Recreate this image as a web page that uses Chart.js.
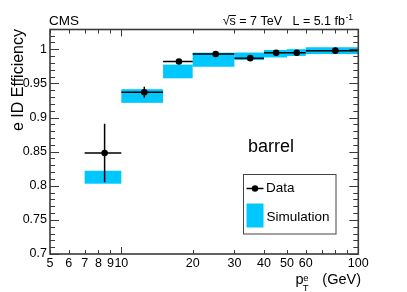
<!DOCTYPE html>
<html>
<head>
<meta charset="utf-8">
<script src="https://cdn.jsdelivr.net/npm/chart.js@4.4.0/dist/chart.umd.min.js"></script>
<style>
  body { margin: 0; background: #fff; }
  canvas { display: block; }
</style>
</head>
<body>
<canvas id="effChart" width="407" height="292"></canvas>
<script>
// bins in pT (GeV)
const binLo = [7, 10, 15, 20, 30, 40, 50, 60];
const binHi = [10, 15, 20, 30, 40, 50, 60, 100];
// data points
const dataX = [8.5, 12.5, 17.5, 25, 35, 45, 55, 80];
const dataY = [0.848, 0.937, 0.982, 0.993, 0.987, 0.995, 0.995, 0.998];
const dataErr = [0.043, 0.008, 0.003, 0.002, 0.002, 0.002, 0.002, 0.002];
// simulation band (centre +- half height)
const simY = [0.8125, 0.9315, 0.9675, 0.9847, 0.9897, 0.9935, 0.9952, 0.998];
const simErr = [0.0095, 0.010, 0.010, 0.0103, 0.0055, 0.0055, 0.005, 0.005];
// axes
const xTicks = [5, 6, 7, 8, 9, 10, 20, 30, 40, 50, 60, 70, 80, 90, 100];
const xTickLabels = [5, 6, 7, 8, 9, 10, 20, 30, 40, 50, 60, 100];
const yTicks = [0.7, 0.75, 0.8, 0.85, 0.9, 0.95, 1];
const yTickLabels = ['0.7', '0.75', '0.8', '0.85', '0.9', '0.95', '1'];

const FONT = "'Liberation Sans', Arial, Helvetica, sans-serif";
const SIM_COLOR = '#00c8ff';
const FRAME_COLOR = '#3a3a3a';

// boxes, error bars, frame, ticks and labels drawn ROOT style
const cmsPlugin = {
  id: 'cmsPlot',
  beforeDatasetsDraw(chart) {
    const { ctx, scales: { x, y } } = chart;
    ctx.save();
    ctx.fillStyle = SIM_COLOR;
    simY.forEach((v, i) => {
      const x0 = x.getPixelForValue(binLo[i]);
      const x1 = x.getPixelForValue(binHi[i]);
      const y0 = y.getPixelForValue(v + simErr[i]);
      const y1 = y.getPixelForValue(v - simErr[i]);
      ctx.fillRect(x0, y0, x1 - x0, y1 - y0);
    });

    ctx.strokeStyle = '#000';
    ctx.lineWidth = 1.5;
    dataY.forEach((v, i) => {
      const px = x.getPixelForValue(dataX[i]);
      const py = y.getPixelForValue(v);
      ctx.beginPath();
      ctx.moveTo(x.getPixelForValue(binLo[i]), py);
      ctx.lineTo(x.getPixelForValue(binHi[i]), py);
      ctx.moveTo(px, y.getPixelForValue(v + dataErr[i]));
      ctx.lineTo(px, y.getPixelForValue(v - dataErr[i]));
      ctx.stroke();
    });
    ctx.restore();
  },
  afterDraw(chart) {
    const { ctx, chartArea: a, scales: { x, y } } = chart;
    ctx.save();

    // ticks on all four sides, pointing inwards
    ctx.strokeStyle = FRAME_COLOR;
    ctx.lineWidth = 1;
    ctx.beginPath();
    for (let i = 70; i <= 102; i++) {
      const py = Math.round(y.getPixelForValue(i / 100)) + 0.5;
      const len = i % 5 === 0 ? 9 : 5;
      ctx.moveTo(a.left, py); ctx.lineTo(a.left + len, py);
      ctx.moveTo(a.right, py); ctx.lineTo(a.right - len, py);
    }
    xTicks.forEach(v => {
      const px = Math.round(x.getPixelForValue(v)) + 0.5;
      const len = (v === 10 || v === 100) ? 7 : 4;
      ctx.moveTo(px, a.bottom); ctx.lineTo(px, a.bottom - len);
      ctx.moveTo(px, a.top); ctx.lineTo(px, a.top + len);
    });
    ctx.stroke();

    // frame
    ctx.lineWidth = 1.6;
    ctx.strokeRect(a.left, a.top, a.right - a.left, a.bottom - a.top);

    // legend
    ctx.fillStyle = '#fff';
    ctx.fillRect(243.5, 174.5, 92.5, 59.5);
    ctx.strokeStyle = '#444';
    ctx.lineWidth = 1;
    ctx.strokeRect(243.5, 174.5, 92.5, 59.5);
    ctx.strokeStyle = '#000';
    ctx.lineWidth = 1.5;
    ctx.beginPath();
    ctx.moveTo(246.5, 188.5); ctx.lineTo(263.5, 188.5);
    ctx.stroke();
    ctx.fillStyle = '#000';
    ctx.beginPath();
    ctx.arc(255, 188.5, 3.2, 0, Math.PI * 2);
    ctx.fill();
    ctx.fillStyle = SIM_COLOR;
    ctx.fillRect(246.5, 203.5, 17, 24);

    ctx.fillStyle = '#000';
    ctx.textBaseline = 'middle';
    ctx.textAlign = 'left';
    ctx.font = '13.5px ' + FONT;
    ctx.fillText('Data', 266, 188.5);
    ctx.fillText('Simulation', 266.5, 217);

    // label inside the plot
    ctx.textBaseline = 'alphabetic';
    ctx.font = '18px ' + FONT;
    ctx.fillText('barrel', 248, 152);

    // header
    ctx.font = '13.5px ' + FONT;
    ctx.fillText('CMS', 49, 25);

    let xr = 353;
    ctx.font = '8.5px ' + FONT;
    const supW = ctx.measureText('-1').width;
    ctx.fillText('-1', xr - supW, 19.5);
    xr -= supW + 0.5;
    ctx.font = '12.5px ' + FONT;
    const main = ' = 7 TeV   L = 5.1 fb';
    const mainW = ctx.measureText(main).width;
    ctx.fillText(main, xr - mainW, 25);
    xr -= mainW;
    const sW = ctx.measureText('s').width;
    ctx.fillText('s', xr - sW, 25);
    ctx.strokeStyle = '#000';
    ctx.lineWidth = 1;
    ctx.beginPath();
    ctx.moveTo(xr - sW - 0.5, 15.5); ctx.lineTo(xr, 15.5);
    ctx.stroke();
    xr -= sW;
    const rW = ctx.measureText('\u221A').width;
    ctx.fillText('\u221A', xr - rW, 25);

    // y axis title
    ctx.save();
    ctx.translate(23, 29);
    ctx.rotate(-Math.PI / 2);
    ctx.textAlign = 'right';
    ctx.font = '16px ' + FONT;
    ctx.fillText('e ID Efficiency', 0, 0);
    ctx.restore();

    // x axis title  p_T^e (GeV)
    ctx.font = '14.5px ' + FONT;
    const gev = '(GeV)';
    const gevW = ctx.measureText(gev).width;
    ctx.fillText(gev, 361 - gevW, 283.5);
    ctx.fillText('p', 295.5, 283.5);
    ctx.font = '9.5px ' + FONT;
    ctx.fillText('e', 303.3, 281);
    ctx.fillText('T', 302.7, 290.5);

    ctx.restore();
  }
};

const ctx = document.getElementById('effChart').getContext('2d');
new Chart(ctx, {
  type: 'scatter',
  data: {
    datasets: [{
      label: 'Data',
      data: dataX.map((v, i) => ({ x: v, y: dataY[i] })),
      pointRadius: 3.3,
      pointBackgroundColor: '#000',
      pointBorderWidth: 0,
      showLine: false
    }]
  },
  options: {
    responsive: false,
    animation: false,
    layout: { padding: { top: 29.5, right: 48.7, left: 0, bottom: 0 } },
    plugins: {
      legend: { display: false },
      tooltip: { enabled: false }
    },
    scales: {
      x: {
        type: 'logarithmic',
        min: 5,
        max: 100,
        afterFit: s => { s.height = 38; },
        afterBuildTicks: s => { s.ticks = xTicks.map(v => ({ value: v })); },
        grid: { display: false, drawTicks: false },
        border: { display: false },
        ticks: {
          autoSkip: false,
          maxRotation: 0,
          padding: 2,
          color: '#000',
          font: { family: FONT, size: 12.5 },
          callback: v => xTickLabels.includes(v) ? String(v) : ''
        }
      },
      y: {
        min: 0.7,
        max: 1.029,
        afterFit: s => { s.width = 50; },
        afterBuildTicks: s => { s.ticks = yTicks.map(v => ({ value: v })); },
        grid: { display: false, drawTicks: false },
        border: { display: false },
        ticks: {
          padding: 3,
          color: '#000',
          font: { family: FONT, size: 12.5 },
          callback: (v, i) => yTickLabels[i]
        }
      }
    }
  },
  plugins: [cmsPlugin]
});
</script>
</body>
</html>
